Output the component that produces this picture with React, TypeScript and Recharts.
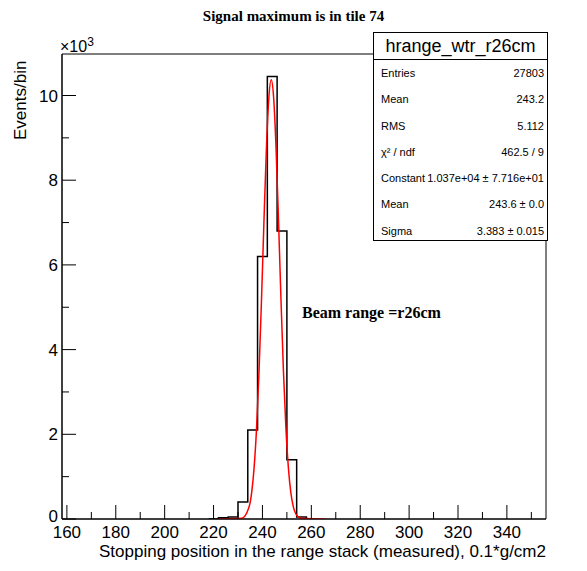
import React from "react";
import { ComposedChart, Line, XAxis, YAxis, ReferenceArea } from "recharts";

const binEdges = [218, 222, 226, 230, 234, 238, 242, 246, 250, 254, 258, 262];
const binCounts = [0, 0.03, 0.05, 0.4, 2.1, 6.2, 10.45, 6.8, 1.4, 0.05, 0, 0];
const fitX = [222, 231.6, 234.6, 235.6, 236.6, 237.6, 238.6, 239.6, 240.6, 241.6, 242.6, 243.6, 244.6, 245.6, 246.6, 247.6, 248.6, 249.6, 250.6, 251.6, 252.6, 253.6, 255.6, 266];
const fitY = [0, 0.02, 0.3, 0.63, 1.22, 2.15, 3.48, 5.15, 7.0, 8.71, 9.93, 10.37, 9.93, 8.71, 7.0, 5.15, 3.48, 2.15, 1.22, 0.63, 0.3, 0.13, 0.02, 0];
const xMajor = [160, 180, 200, 220, 240, 260, 280, 300, 320, 340];
const xTicks = [160, 170, 180, 190, 200, 210, 220, 230, 240, 250, 260, 270, 280, 290, 300, 310, 320, 330, 340, 350];
const yMajor = [0, 2, 4, 6, 8, 10];
const yTicks = [0, 1, 2, 3, 4, 5, 6, 7, 8, 9, 10];
const statRows: [string, string][] = [
  ["Entries", "27803"], ["Mean", "243.2"], ["RMS", "5.112"], ["χ² / ndf", "462.5 / 9"],
  ["Constant", "1.037e+04 ± 7.716e+01"], ["Mean", "243.6 ± 0.0"], ["Sigma", "3.383 ± 0.015"],
];

const histData = binEdges.map((x, i) => ({ x, y: binCounts[i] }));
const fitData = fitX.map((x, i) => ({ x, y: fitY[i] }));
const sans = "'Liberation Sans', Arial, sans-serif";
const serif = "'Liberation Serif', 'Times New Roman', serif";

const XTick = (p: any) => {
  const v = p.payload.value;
  const major = xMajor.includes(v);
  const y0 = 519;
  return (
    <g>
      <line x1={p.x} x2={p.x} y1={y0} y2={y0 - (major ? 14 : 7)} stroke="#000" />
      {major && <text x={p.x} y={y0 + 19} textAnchor="middle" fontFamily={sans} fontSize={17} fill="#000">{v}</text>}
    </g>
  );
};
const YTick = (p: any) => {
  const v = p.payload.value;
  const major = yMajor.includes(v);
  const x0 = 62;
  return (
    <g>
      <line x1={x0} x2={x0 + (major ? 14 : 7)} y1={p.y} y2={p.y} stroke="#000" />
      {major && <text x={x0 - 4} y={p.y + (v === 0 ? 3 : 6)} textAnchor="end" fontFamily={sans} fontSize={17} fill="#000">{v}</text>}
    </g>
  );
};

export default function App() {
  return (
    <div style={{ position: "absolute", left: 0, top: 0, width: 587, height: 571, background: "#fff" }}>
      <ComposedChart width={587} height={571} margin={{ top: 54, right: 41, bottom: 22, left: 32 }}>
        <XAxis dataKey="x" type="number" domain={[158, 356]} ticks={xTicks} interval={0} allowDataOverflow
          tick={<XTick />} tickLine={false} stroke="#000" height={30} />
        <YAxis type="number" domain={[0, 10.98]} ticks={yTicks} interval={0} allowDataOverflow
          tick={<YTick />} tickLine={false} stroke="#000" width={30} />
        <ReferenceArea x1={158} x2={356} y1={0} y2={10.98} fill="none" stroke="#000" strokeWidth={1} ifOverflow="visible" />
        <Line data={histData} dataKey="y" type="stepAfter" stroke="#000" strokeWidth={1.5} dot={false} isAnimationActive={false} />
        <Line data={fitData} dataKey="y" type="monotone" stroke="#f00" strokeWidth={1.5} dot={false} isAnimationActive={false} />
      </ComposedChart>
      <div style={{ position: "absolute", left: 0, top: 8, width: 587, textAlign: "center", fontFamily: serif, fontWeight: "bold", fontSize: 15 }}>Signal maximum is in tile 74</div>
      <svg style={{ position: "absolute", left: 0, top: 0 }} width={587} height={571} pointerEvents="none">
        <text x={60} y={52} fontFamily={sans} fontSize={16}>×10<tspan dy={-6} fontSize={12}>3</tspan></text>
        <text x={0} y={0} transform="translate(26,140) rotate(-90)" textAnchor="start" fontFamily={sans} fontSize={17}>Events/bin</text>
        <text x={546} y={557} textAnchor="end" fontFamily={sans} fontSize={17}>Stopping position in the range stack (measured), 0.1*g/cm2</text>
        <text x={302} y={318} fontFamily={serif} fontWeight="bold" fontSize={16}>Beam range =r26cm</text>
      </svg>
      <div style={{ position: "absolute", left: 373, top: 32, width: 173, height: 207, border: "1px solid #000", background: "#fff", fontFamily: sans, fontSize: 11 }}>
        <div style={{ height: 26, borderBottom: "1px solid #000", textAlign: "center", fontSize: 18, lineHeight: "26px" }}>hrange_wtr_r26cm</div>
        {statRows.map(([k, v], i) => (
          <div key={i} style={{ display: "flex", justifyContent: "space-between", height: 26.3, lineHeight: "26px", padding: "0 3px 0 7px" }}>
            <span>{k}</span><span>{v}</span>
          </div>
        ))}
      </div>
    </div>
  );
}
